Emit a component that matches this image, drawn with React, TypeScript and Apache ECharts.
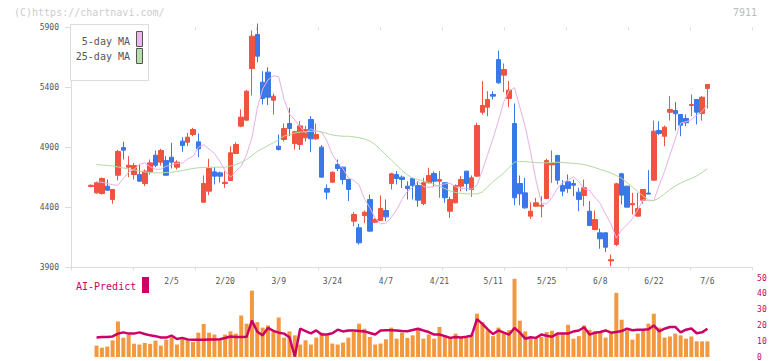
import React, { useEffect, useRef } from "react";
import * as echarts from "echarts";

const dates = [
  "1/15","1/16","1/19","1/20","1/21","1/22","1/23","1/26","1/27","1/28","1/29","1/30",
  "2/2","2/3","2/4","2/5","2/6","2/9","2/10","2/12","2/13","2/16","2/17","2/18","2/19","2/20",
  "2/24","2/25","2/26","2/27","3/2","3/3","3/4","3/5","3/6","3/9","3/10","3/11","3/12","3/13",
  "3/16","3/17","3/18","3/19","3/23","3/24","3/25","3/26","3/27","3/30","3/31","4/1","4/2","4/3",
  "4/6","4/7","4/8","4/9","4/10","4/13","4/14","4/15","4/16","4/17","4/20","4/21","4/22","4/23",
  "4/24","4/27","4/28","4/30","5/1","5/7","5/8","5/11","5/12","5/13","5/14","5/15","5/18","5/19",
  "5/20","5/21","5/22","5/25","5/26","5/27","5/28","5/29","6/1","6/2","6/3","6/4","6/5","6/8",
  "6/9","6/10","6/11","6/12","6/15","6/16","6/17","6/18","6/19","6/22","6/23","6/24","6/25","6/26",
  "6/29","6/30","7/1","7/2","7/3","7/6"
];

const opens = [
  4575,4522,4517,4578,4467,4669,4900,4736,4675,4675,4600,4697,4836,4778,4792,4819,4736,4953,4944,5008,
  4947,4444,4536,4697,4689,4600,4625,4850,5078,5128,5558,5842,5444,5528,5294,4911,4967,5100,4933,4925,
  4981,5133,4972,4903,4558,4611,4758,4736,4633,4286,4231,4333,4467,4278,4292,4375,4600,4675,4653,4578,
  4642,4583,4433,4606,4683,4619,4606,4369,4439,4578,4703,4550,4661,5194,5236,5342,5633,5503,5308,5100,
  4600,4522,4328,4411,4411,4475,4756,4833,4583,4614,4600,4528,4500,4369,4217,4189,4189,3955,4092,4681,
  4578,4422,4328,4461,4520,4628,5042,4994,5194,5208,5175,5142,5250,5300,5183,5392
];
const closes = [
  4585,4606,4642,4544,4550,4867,4878,4752,4750,4619,4703,4772,4752,4875,4669,4778,4778,4917,4986,5050,
  4889,4600,4725,4661,4661,4610,4856,4925,5153,5369,5828,5661,5308,5319,5328,4883,5058,5058,5031,5080,
  5050,4972,5008,4653,4528,4694,4725,4633,4550,4342,4106,4361,4203,4300,4392,4322,4681,4642,4633,4558,
  4583,4461,4606,4667,4619,4633,4481,4467,4583,4633,4600,4647,5083,5250,5300,5328,5439,5550,5378,4481,
  4514,4397,4369,4439,4419,4792,4767,4628,4536,4558,4586,4467,4564,4250,4300,4139,4069,3965,4597,4503,
  4403,4433,4392,4550,4512,5036,5017,5069,5217,5181,5086,5106,5258,5194,5319,5425
];
const highs = [
  4592,4615,4650,4633,4555,4880,4948,4828,4772,4758,4717,4800,4875,4889,4828,4939,4794,4986,5022,5064,
  5017,4667,4806,4736,4700,4703,4911,4944,5217,5380,5875,5933,5536,5569,5350,5008,5100,5231,5040,5120,
  5080,5161,5100,4920,4592,4700,4800,4740,4640,4361,4264,4375,4508,4310,4500,4467,4690,4703,4667,4619,
  4645,4619,4647,4731,4700,4703,4610,4489,4592,4661,4705,4667,5106,5453,5369,5369,5708,5600,5453,5267,
  4667,4647,4444,4480,4494,4806,4875,4840,4628,4675,4633,4564,4633,4453,4375,4225,4195,4008,4606,4689,
  4580,4522,4522,4555,4711,5125,5119,5083,5328,5278,5180,5175,5342,5300,5328,5425
];
const lows = [
  4570,4515,4508,4540,4431,4625,4800,4653,4633,4615,4578,4675,4736,4750,4665,4725,4717,4864,4911,4994,
  4819,4440,4503,4592,4608,4564,4620,4845,5069,5120,5333,5611,5258,5253,5175,4875,4950,4994,4883,4880,
  4950,4861,4965,4650,4467,4605,4703,4592,4453,4244,4092,4272,4200,4270,4290,4286,4550,4592,4564,4467,
  4467,4406,4419,4600,4575,4481,4439,4314,4435,4536,4536,4489,4655,5175,5161,5300,5431,5361,5236,4419,
  4419,4390,4306,4405,4319,4470,4606,4592,4494,4522,4494,4369,4411,4245,4210,4056,4028,3911,4078,4425,
  4400,4342,4325,4431,4510,4620,5003,4911,5125,5042,4994,5078,5161,5092,5125,5225
];

const ma5 = [
  null,4615,4610,4600,4590,4585,4642,4696,4718,4759,4773,4740,4719,4719,4744,4754,4769,4770,4803,4826,
  4902,4924,4888,4850,4785,4707,4651,4703,4743,4841,4983,5226,5387,5464,5497,5489,5300,5179,5129,5072,
  5022,5055,5038,5028,4953,4842,4771,4722,4647,4626,4589,4471,4398,4312,4262,4272,4316,4380,4467,4534,
  4567,4619,4575,4568,4575,4587,4597,4601,4573,4557,4559,4553,4586,4709,4843,4976,5122,5280,5373,5399,
  5235,5072,4864,4628,4440,4428,4483,4557,4609,4628,4656,4615,4555,4542,4485,4433,4344,4264,4145,4214,
  4255,4307,4380,4466,4456,4458,4585,4701,4837,4970,5104,5114,5132,5170,5200,5258
];
const ma25 = [
  null,4758,4754,4750,4746,4738,4729,4721,4713,4704,4696,4692,4689,4689,4692,4694,4700,4708,4717,4725,
  4731,4733,4735,4736,4736,4736,4746,4757,4775,4800,4833,4867,4892,4917,4939,4967,4996,5008,5021,5028,
  5032,5033,5036,5029,5017,5004,4998,4994,4994,4989,4981,4971,4954,4925,4883,4838,4796,4754,4708,4671,
  4646,4633,4621,4608,4592,4575,4558,4538,4525,4517,4514,4513,4513,4529,4571,4617,4650,4688,4733,4779,
  4783,4782,4779,4775,4772,4772,4775,4777,4775,4771,4767,4764,4758,4746,4733,4717,4704,4688,4667,4642,
  4608,4571,4533,4496,4463,4458,4479,4513,4550,4579,4604,4625,4642,4663,4692,4722
];

const volumes = [
  null,7.2,5.9,6.6,10.5,22.5,12.2,14.2,8.4,7.9,8.9,8.3,10.4,7.2,11,12.5,7.9,11.6,10.4,9.5,
  15.4,20.9,15.4,14.2,10.8,14.2,16.2,14.8,26.3,21.1,42,22.1,18.6,20,15.8,25,12.3,16.2,13.7,7.9,
  10.6,7.9,12.3,15.4,13.7,8.5,7.9,9.1,12.3,15.8,21.1,17.9,12.7,7.9,8.5,11.2,18.6,11.6,15.4,12.1,
  13.7,17.9,11.6,14.2,11.6,19,13.7,12.7,14.8,12.1,12.1,14.2,27.4,22.1,16.8,13.2,18.6,15,17,49.5,
  23,16.2,11.6,11.6,12.7,15.8,16.6,14.2,14.2,20.4,11.6,13.2,20,17.2,16.2,15.4,12.3,14.8,40.6,23.6,
  16.8,11,14.8,16.8,21.1,27.4,18.6,12.3,13,14.8,13.7,11.6,13,9.9,9.9,9.9
];
const aiPredict = [
  null,12.3,12.6,12.6,13.0,14.8,15.6,14.8,14.8,15.6,14.6,13.7,13.2,12.3,12.3,13.5,11.4,12.1,11.1,10.9,
  10.9,10.9,11.0,11.0,11.2,12.0,13.0,12.6,12.6,12.8,23,16,13.7,18.4,16.5,15.4,14.8,12.5,0.3,17.9,
  16.4,15,16.8,14.2,14.2,15.0,17.3,16.2,16.8,16.8,16.5,16.2,15.2,14.2,16.8,17,16.9,16.8,16.5,16.3,
  17.1,17.9,16.8,15.8,14.2,14.2,13.2,12.1,12.6,12.3,12.8,13.5,24,21,17.5,14.5,16.8,15.4,14.2,18.4,
  15.4,11.6,12.5,12.1,14.2,13.5,12.8,14.8,14.8,14.8,16.2,16.8,18.8,14.2,15.4,15.8,16.8,15.4,15.8,16.4,
  17.9,16.9,17.3,17.2,17.5,20,16.2,17.9,19,19,15.6,17.3,18,15,15.6,17.9
];

const priceTicks = { min: 3900, max: 5900, step: 500 };
const volTicks = { min: 0, max: 50, step: 10 };

const MONO = '"DejaVu Sans Mono", "Liberation Mono", monospace';
const UP = "#f0533f";
const DOWN = "#3b78e7";
const MAGENTA = "#cc0066";

export default function App() {
  const ref = useRef<HTMLDivElement>(null);
  useEffect(() => {
    if (!ref.current) return;
    const chart = echarts.init(ref.current, null, { renderer: "svg" });
    const candles = dates.map((_, i) => [opens[i], closes[i], lows[i], highs[i]]);
    const axisGray = "#dcdcdc";
    chart.setOption({
      animation: false,
      backgroundColor: "#ffffff",
      grid: [
        { left: 71, right: 20, top: 27.5, height: 240 },
        { left: 88.5, right: 61.9, top: 27.5, height: 240 },
        { left: 88.5, right: 61.9, top: 278, height: 80.5 },
      ],
      xAxis: [
        {
          gridIndex: 0, type: "value", min: 0, max: 11, interval: 1,
          axisLine: { show: true, lineStyle: { color: axisGray, width: 1 } },
          axisTick: { show: true, length: 3, lineStyle: { color: axisGray } },
          axisLabel: { show: false }, splitLine: { show: false },
        },
        {
          gridIndex: 0, type: "value", min: 0, max: 11, interval: 1,
          axisLine: { show: false },
          axisTick: { show: true, inside: true, length: 3, lineStyle: { color: axisGray } },
          axisLabel: { show: false }, splitLine: { show: false },
        },
        {
          gridIndex: 1, type: "category", data: dates, boundaryGap: true,
          axisLine: { show: false }, axisTick: { show: false },
          axisLabel: {
            interval: (index: number) => index >= 15 && (index - 15) % 10 === 0,
            margin: 10, fontSize: 8, color: "#555", fontFamily: MONO,
          },
          splitLine: { show: false },
        },
        {
          gridIndex: 2, type: "category", data: dates, boundaryGap: true, show: false,
        },
      ],
      yAxis: [
        {
          gridIndex: 0, type: "value", min: priceTicks.min, max: priceTicks.max, interval: priceTicks.step,
          axisLine: { show: true, lineStyle: { color: axisGray } },
          axisTick: { show: true, length: 6, lineStyle: { color: axisGray } },
          axisLabel: { margin: 12, fontSize: 8, color: "#555", fontFamily: MONO,
            formatter: (v: number) => String(v) },
          splitLine: { show: false },
        },
        {
          gridIndex: 1, type: "value", min: priceTicks.min, max: priceTicks.max, show: false,
          splitLine: { show: false },
        },
        {
          gridIndex: 2, type: "value", min: volTicks.min, max: volTicks.max, interval: volTicks.step,
          position: "right",
          axisLine: { show: false }, axisTick: { show: false },
          axisLabel: { margin: 47, fontSize: 8, color: MAGENTA, fontFamily: MONO, align: "left",
            formatter: (v: number) => String(v) },
          splitLine: { show: false },
        },
      ],
      series: [
        { type: "line", xAxisIndex: 0, yAxisIndex: 0, data: [], silent: true },
        {
          type: "candlestick", xAxisIndex: 2, yAxisIndex: 1, data: candles,
          barWidth: 5, clip: false,
          itemStyle: { color: UP, color0: DOWN, borderColor: UP, borderColor0: DOWN, borderWidth: 1 },
          z: 2,
        },
        {
          type: "line", xAxisIndex: 2, yAxisIndex: 1, data: ma5, showSymbol: false,
          lineStyle: { color: "#e8b0e8", width: 1 }, z: 3, connectNulls: false,
        },
        {
          type: "line", xAxisIndex: 2, yAxisIndex: 1, data: ma25, showSymbol: false,
          lineStyle: { color: "#b4d9a4", width: 1 }, z: 3,
        },
        {
          type: "bar", xAxisIndex: 3, yAxisIndex: 2, data: volumes, barWidth: 4,
          itemStyle: { color: "#f2993f" },
        },
        {
          type: "line", xAxisIndex: 3, yAxisIndex: 2, data: aiPredict, showSymbol: false,
          lineStyle: { color: MAGENTA, width: 2.5 }, z: 4,
        },
      ],
      graphic: [
        {
          type: "text", x: 14, y: 12.5, z: 10,
          style: { text: "(C)https://chartnavi.com/", fill: "#cccccc", font: `10px ${MONO}`,
            textAlign: "left", textVerticalAlign: "middle", align: "left", verticalAlign: "middle" },
        },
        {
          type: "text", x: 757, y: 12.5, z: 10,
          style: { text: "7911", fill: "#bbbbbb", font: `10px ${MONO}`,
            textAlign: "right", textVerticalAlign: "middle", align: "right", verticalAlign: "middle" },
        },
        {
          type: "rect", z: 10, shape: { x: 70.5, y: 24.5, width: 78, height: 56 },
          style: { fill: "#ffffff", stroke: "#dddddd", lineWidth: 1 },
        },
        {
          type: "text", x: 130, y: 41, z: 11,
          style: { text: "5-day MA", fill: "#555555", font: `10px ${MONO}`,
            textAlign: "right", textVerticalAlign: "middle", align: "right", verticalAlign: "middle" },
        },
        {
          type: "text", x: 130, y: 56.5, z: 11,
          style: { text: "25-day MA", fill: "#555555", font: `10px ${MONO}`,
            textAlign: "right", textVerticalAlign: "middle", align: "right", verticalAlign: "middle" },
        },
        {
          type: "rect", z: 11, shape: { x: 136.5, y: 31.5, width: 6, height: 15 },
          style: { fill: "#ecb8ec", stroke: "#555555", lineWidth: 1 },
        },
        {
          type: "rect", z: 11, shape: { x: 136.5, y: 48.5, width: 6, height: 15 },
          style: { fill: "#b8dcaa", stroke: "#555555", lineWidth: 1 },
        },
        {
          type: "text", x: 76, y: 286, z: 10,
          style: { text: "AI-Predict", fill: MAGENTA, font: `10px ${MONO}`,
            textAlign: "left", textVerticalAlign: "middle", align: "left", verticalAlign: "middle" },
        },
        {
          type: "rect", z: 10, shape: { x: 142, y: 277, width: 7, height: 16 },
          style: { fill: MAGENTA },
        },
      ],
    });
    return () => chart.dispose();
  }, []);
  return (
    <div
      ref={ref}
      style={{ position: "fixed", left: 0, top: 0, width: 772, height: 361, background: "#fff" }}
    />
  );
}
